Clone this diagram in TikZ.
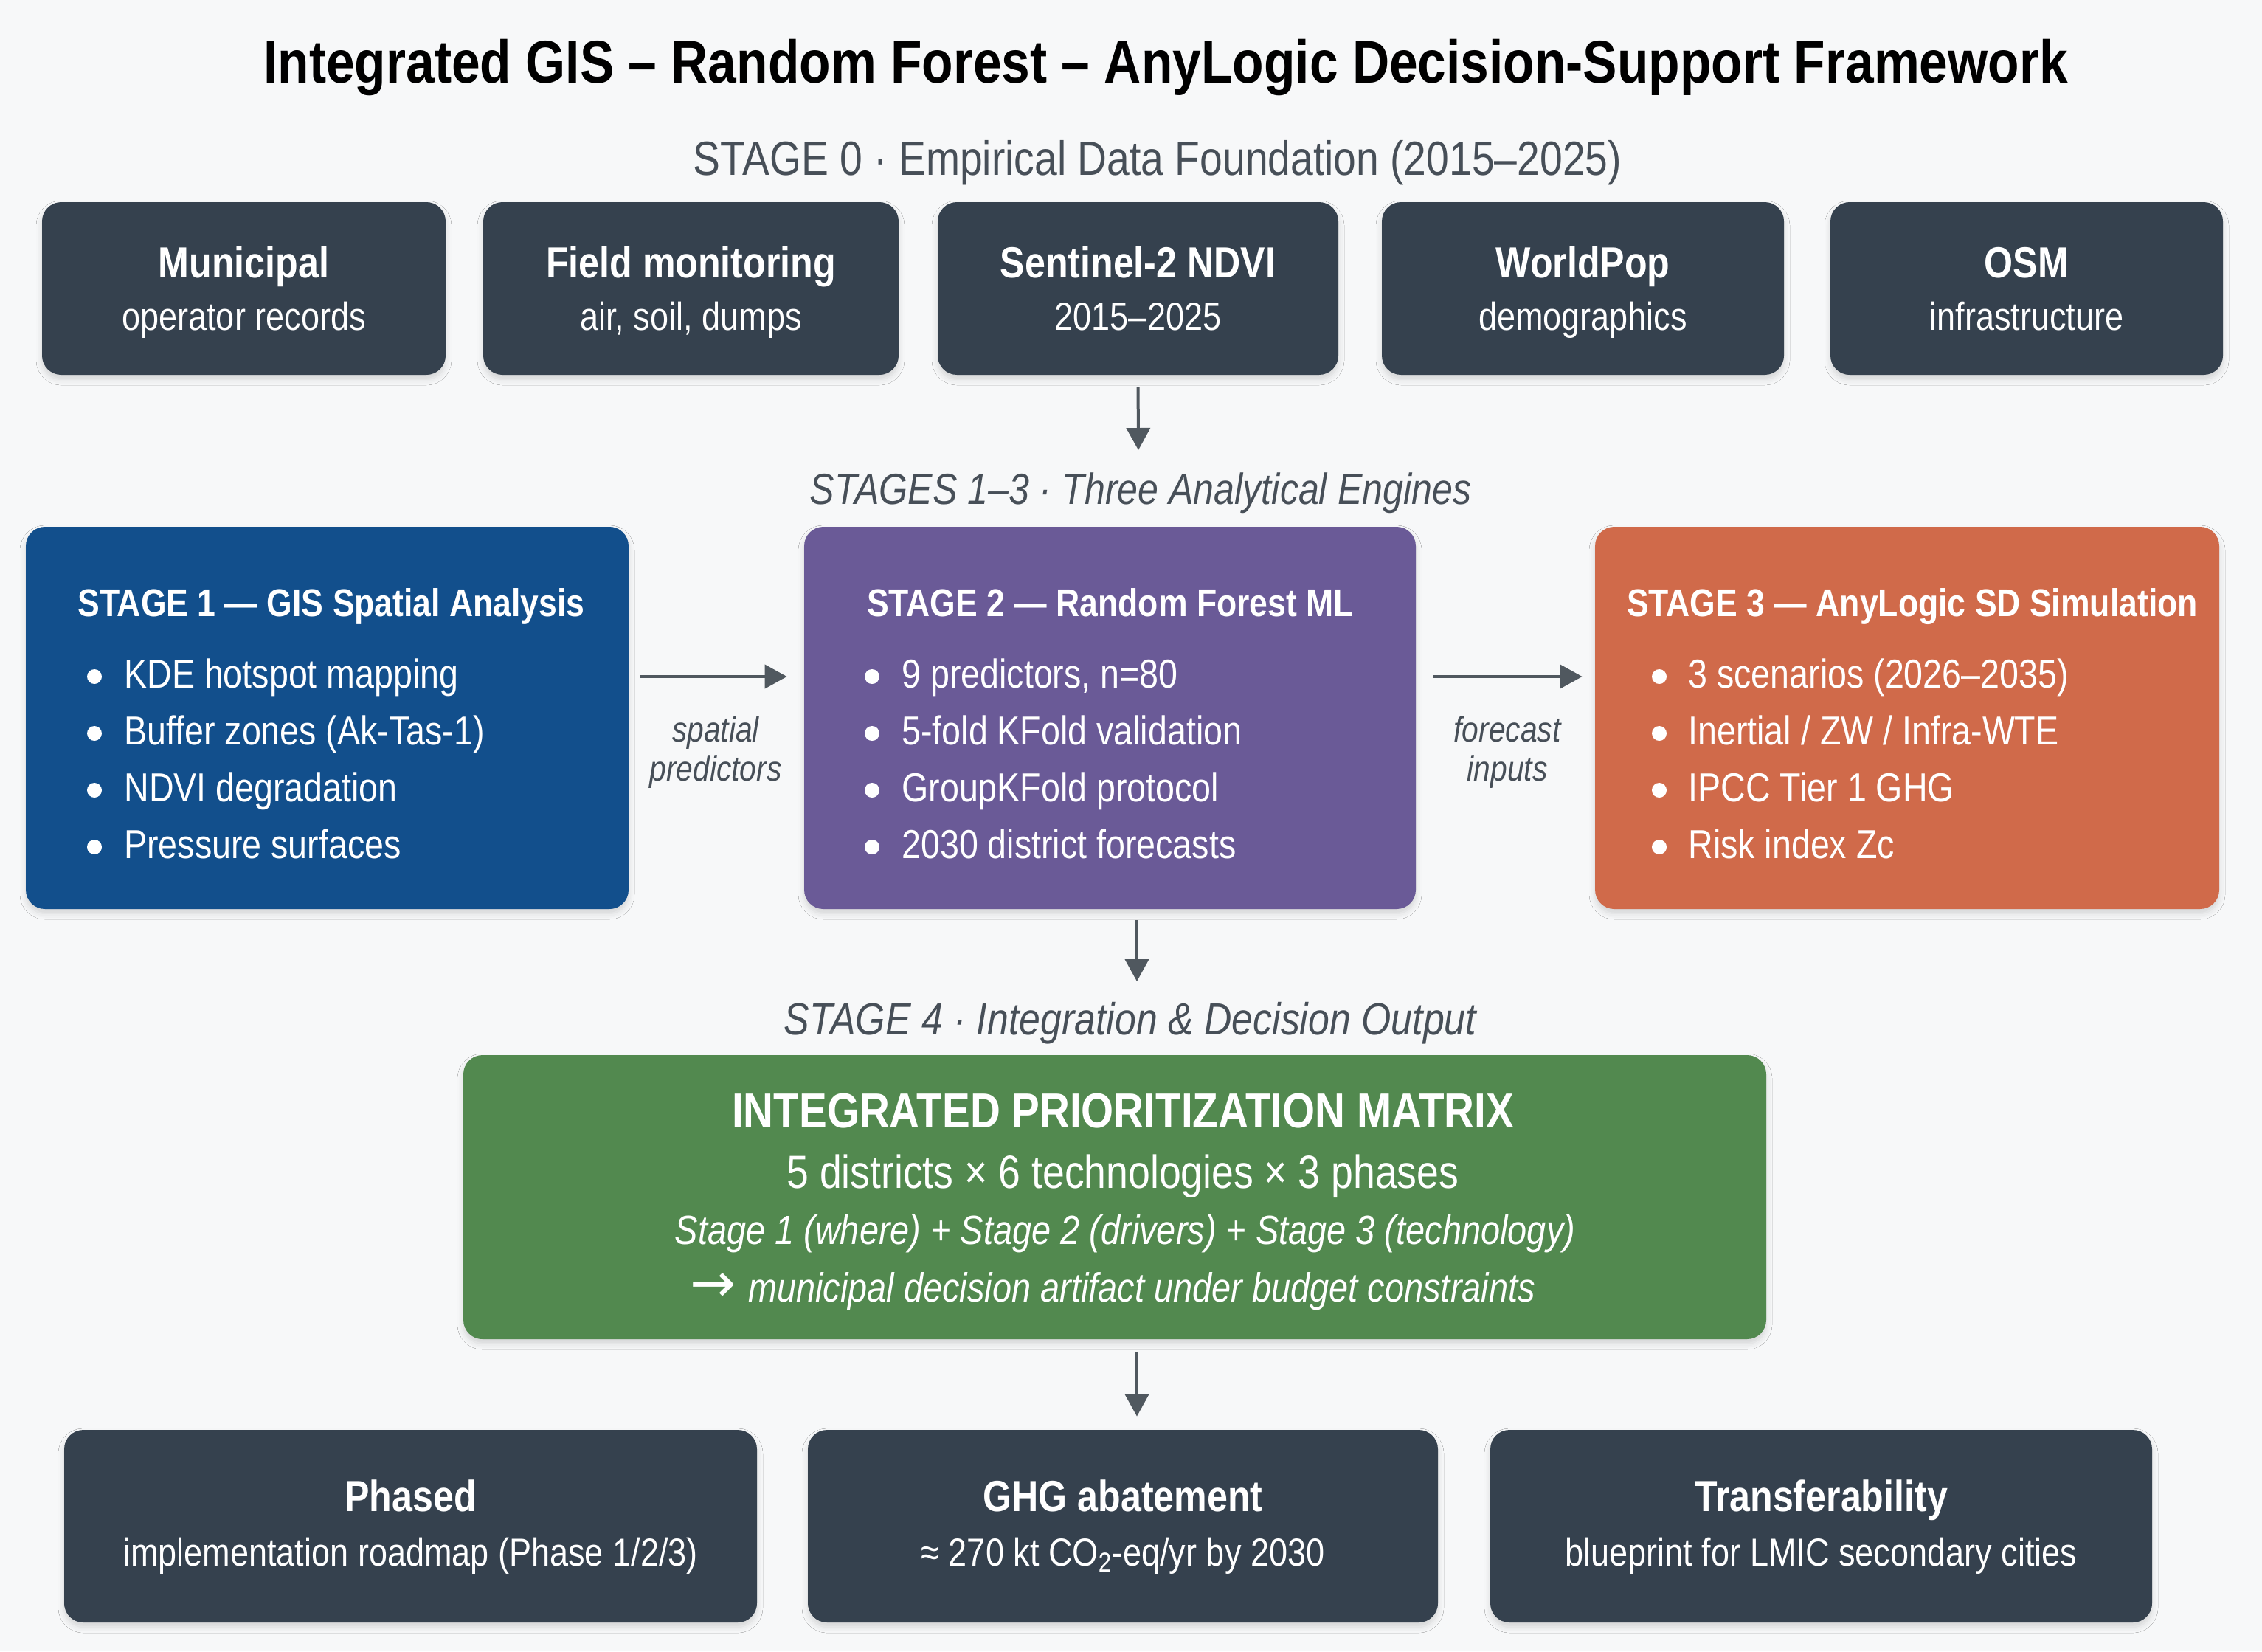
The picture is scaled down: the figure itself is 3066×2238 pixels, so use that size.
\documentclass[tikz,border=0pt]{standalone}
\usepackage{fontspec}
\setmainfont{Liberation Sans}[FakeStretch=0.85]
\newfontfamily\arrowfont{DejaVu Sans}
\usetikzlibrary{arrows.meta,shadows.blur}
\definecolor{bgc}{HTML}{F7F8F9}
\definecolor{slate}{HTML}{35414E}
\definecolor{blueb}{HTML}{124F8C}
\definecolor{purpb}{HTML}{6A5A97}
\definecolor{orngb}{HTML}{D06A4A}
\definecolor{grnb}{HTML}{52894F}
\definecolor{labc}{HTML}{474F58}
\definecolor{arrc}{HTML}{50585F}
\newcommand\fsz[1]{\fontsize{#1pt}{#1pt}\selectfont}
\begin{document}
\begin{tikzpicture}[x=0.5pt,y=-0.5pt,
  box/.style={rounded corners=13pt, inner sep=0pt,
    blur shadow={shadow xshift=0pt,shadow yshift=-3pt,shadow blur radius=4pt,shadow opacity=14}},
  wt/.style={inner sep=0pt, anchor=base, text=white},
  lab/.style={inner sep=0pt, anchor=base, text=labc},
  arr/.style={draw=arrc, line width=2pt, -{Triangle[length=15pt,width=16pt]}},
  bt/.style={wt, font=\bfseries\fsz{29.5}},
  st/.style={wt, font=\fsz{26.5}},
  ht/.style={wt, font=\bfseries\fsz{26.2}},
  bl/.style={wt, anchor=base west, font=\fsz{27.4}}]
\fill[bgc] (0,0) rectangle (3066,2238);
\useasboundingbox (0,0) rectangle (3066,2238);

% title
\node[inner sep=0pt, anchor=base, text=black, font=\bfseries\fsz{40.9}] (title) at (1580,112)
  {Integrated GIS – Random Forest – AnyLogic Decision-Support Framework};

% stage 0
\node[lab, font=\fsz{32.5}] (lab0) at (1569,237) {STAGE 0 · Empirical Data Foundation (2015–2025)};

\node[box, fill=slate, minimum width=273.5pt, minimum height=117pt] (b1) at (330.5,391) {};
\node[box, fill=slate, minimum width=281.5pt, minimum height=117pt] (b2) at (936.5,391) {};
\node[box, fill=slate, minimum width=271.5pt, minimum height=117pt] (b3) at (1542.5,391) {};
\node[box, fill=slate, minimum width=272.5pt, minimum height=117pt] (b4) at (2145.5,391) {};
\node[box, fill=slate, minimum width=266pt, minimum height=117pt] (b5) at (2747,391) {};

\node[bt] (b1t) at (330.5,376) {Municipal};
\node[st] (b1s) at (330.5,447) {operator records};
\node[bt] (b2t) at (936.5,376) {Field monitoring};
\node[st] (b2s) at (936.5,447) {air, soil, dumps};
\node[bt] (b3t) at (1542.5,376) {Sentinel-2 NDVI};
\node[st] (b3s) at (1542.5,447) {2015–2025};
\node[bt] (b4t) at (2145.5,376) {WorldPop};
\node[st] (b4s) at (2145.5,447) {demographics};
\node[bt] (b5t) at (2747,376) {OSM};
\node[st] (b5s) at (2747,447) {infrastructure};

% stages 1-3
\node[lab, font=\itshape\fsz{29.5}] (lab1) at (1546,683) {STAGES 1–3 · Three Analytical Engines};
\coordinate (a1e) at (1543,610);
\draw[arr, shorten <=8pt] (b3.south) -- (a1e);

\node[box, fill=blueb, minimum width=408.5pt, minimum height=259pt] (s1) at (443.5,973) {};
\node[box, fill=purpb, minimum width=414.5pt, minimum height=259pt] (s2) at (1504.5,973) {};
\node[box, fill=orngb, minimum width=423pt, minimum height=259pt] (s3) at (2585,973) {};

\node[ht] (s1t) at (449,835) {STAGE 1 — GIS Spatial Analysis};
\node[ht] (s2t) at (1505,835) {STAGE 2 — Random Forest ML};
\node[ht] (s3t) at (2592,835) {STAGE 3 — AnyLogic SD Simulation};

\foreach \t [count=\i] in {KDE hotspot mapping, Buffer zones (Ak-Tas-1), NDVI degradation, Pressure surfaces}{
  \pgfmathsetmacro\yy{932+77*(\i-1)}
  \fill[white] (128,\yy-15) circle (5pt);
  \node[bl] (s1b\i) at (168,\yy) {\t};
}
\foreach \t [count=\i] in {{9 predictors, n=80}, 5-fold KFold validation, GroupKFold protocol, 2030 district forecasts}{
  \pgfmathsetmacro\yy{932+77*(\i-1)}
  \fill[white] (1182,\yy-15) circle (5pt);
  \node[bl] (s2b\i) at (1222,\yy) {\t};
}
\foreach \t [count=\i] in {3 scenarios (2026–2035), Inertial / ZW / Infra-WTE, IPCC Tier 1 GHG, Risk index Zc}{
  \pgfmathsetmacro\yy{932+77*(\i-1)}
  \fill[white] (2249,\yy-15) circle (5pt);
  \node[bl] (s3b\i) at (2288,\yy) {\t};
}

\draw[arr, shorten <=8pt, shorten >=11.5pt] ([yshift=28pt]s1.east) -- ([yshift=28pt]s2.west);
\draw[arr, shorten <=11.5pt, shorten >=8.5pt] ([yshift=28pt]s2.east) -- ([yshift=28pt]s3.west);
\node[lab, font=\itshape\fsz{24}] (l1a) at (970,1005) {spatial};
\node[lab, font=\itshape\fsz{24}] (l1b) at (970,1058) {predictors};
\node[lab, font=\itshape\fsz{24}] (l2a) at (2043,1005) {forecast};
\node[lab, font=\itshape\fsz{24}] (l2b) at (2043,1058) {inputs};

% stage 4
\coordinate (mid) at (1541,0);
\node[lab, font=\itshape\fsz{30.5}] (lab4) at (1532,1402) {STAGE 4 · Integration \& Decision Output};
\coordinate (a2e) at (1541,1330);
\draw[arr, shorten <=7.5pt] (s2.south -| mid) -- (a2e);

\node[box, fill=grnb, minimum width=883pt, minimum height=192.5pt] (g) at (1511,1622.5) {};
\node[wt, font=\bfseries\fsz{33.3}] (g1) at (1522,1528) {INTEGRATED PRIORITIZATION MATRIX};
\node[wt, font=\fsz{31.5}] (g2) at (1522,1610) {5 districts × 6 technologies × 3 phases};
\node[wt, font=\itshape\fsz{27.6}] (g3) at (1525,1686) {Stage 1 (where) + Stage 2 (drivers) + Stage 3 (technology)};
\node[wt, font=\itshape\fsz{27.6}] (g4) at (1508,1764) {{\arrowfont\fsz{37}→}\hspace{2pt} municipal decision artifact under budget constraints};

% outputs
\node[box, fill=slate, minimum width=469.5pt, minimum height=130.5pt] (o1) at (556.5,2068.5) {};
\node[box, fill=slate, minimum width=427pt, minimum height=130.5pt] (o2) at (1522,2068.5) {};
\node[box, fill=slate, minimum width=448.5pt, minimum height=130.5pt] (o3) at (2468.5,2068.5) {};
\draw[arr, shorten <=9pt, shorten >=9pt] (g.south -| mid) -- (o2.north -| mid);

\node[bt] (o1t) at (556.5,2048) {Phased};
\node[st] (o1s) at (556.5,2122) {implementation roadmap (Phase 1/2/3)};
\node[bt] (o2t) at (1522,2048) {GHG abatement};
\node[st] (o2s) at (1522,2122) {≈ 270 kt CO\textsubscript{2}-eq/yr by 2030};
\node[bt] (o3t) at (2468.5,2048) {Transferability};
\node[st] (o3s) at (2468.5,2122) {blueprint for LMIC secondary cities};
\end{tikzpicture}
\end{document}
